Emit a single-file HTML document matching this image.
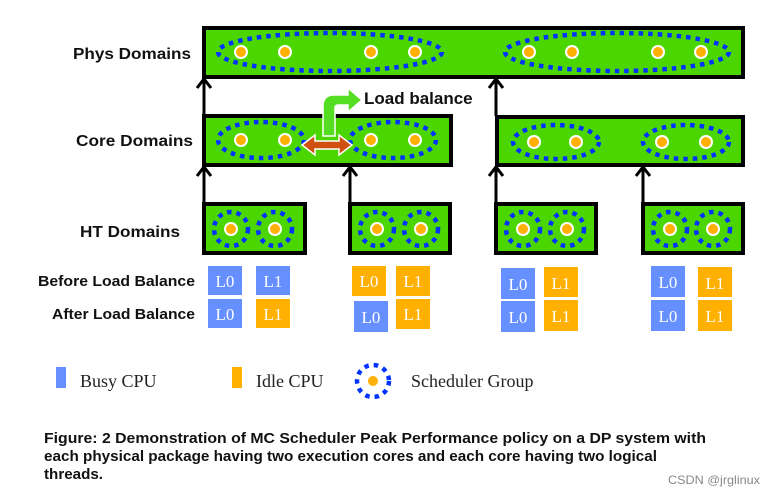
<!DOCTYPE html>
<html><head><meta charset="utf-8"><style>
html,body{margin:0;padding:0;background:#fff;}
svg{display:block;}
</style></head><body>
<svg width="775" height="495" viewBox="0 0 775 495" xmlns="http://www.w3.org/2000/svg" font-family="Liberation Sans, sans-serif">
<!-- labels -->
<g font-weight="bold" fill="#111">
<text x="73" y="59" font-size="16" textLength="118" lengthAdjust="spacingAndGlyphs">Phys Domains</text>
<text x="76" y="146" font-size="16" textLength="117" lengthAdjust="spacingAndGlyphs">Core Domains</text>
<text x="80" y="237" font-size="16" textLength="100" lengthAdjust="spacingAndGlyphs">HT Domains</text>
<text x="38" y="286" font-size="14.5" textLength="157" lengthAdjust="spacingAndGlyphs">Before Load Balance</text>
<text x="52" y="319" font-size="14.5" textLength="143" lengthAdjust="spacingAndGlyphs">After Load Balance</text>
</g>
<!-- arrows -->
<g stroke="#000" stroke-width="3" fill="none">
<line x1="204" y1="203" x2="204" y2="168"/><polyline points="197,176 204,167 211,176"/>
<line x1="204" y1="115" x2="204" y2="80"/><polyline points="197,88 204,79 211,88"/>
<line x1="350" y1="203" x2="350" y2="168"/><polyline points="343,176 350,167 357,176"/>
<line x1="496" y1="116" x2="496" y2="80"/><polyline points="489,88 496,79 503,88"/>
<line x1="496" y1="203" x2="496" y2="168"/><polyline points="489,176 496,167 503,176"/>
<line x1="643" y1="203" x2="643" y2="168"/><polyline points="636,176 643,167 650,176"/>
</g>
<!-- boxes -->
<g fill="#4cd600" stroke="#000" stroke-width="4">
<rect x="204" y="28" width="539" height="49"/>
<rect x="204" y="116" width="247" height="49"/>
<rect x="497" y="117" width="246" height="48"/>
<rect x="204" y="204" width="101" height="49"/>
<rect x="350" y="204" width="100" height="49"/>
<rect x="496" y="204" width="100" height="49"/>
<rect x="643" y="204" width="100" height="49"/>
</g>
<!-- ellipses -->
<g fill="none" stroke="#0033ff" stroke-width="4.5" stroke-dasharray="4.5 5">
<ellipse cx="330" cy="52" rx="112" ry="19"/>
<ellipse cx="617" cy="52" rx="112" ry="19"/>
<ellipse cx="261" cy="140" rx="43" ry="18"/>
<ellipse cx="393" cy="140" rx="43" ry="18"/>
<ellipse cx="556" cy="142" rx="43" ry="17"/>
<ellipse cx="686" cy="142" rx="43" ry="17"/>
<circle cx="231" cy="229" r="17"/><circle cx="275" cy="229" r="17"/>
<circle cx="377" cy="229" r="17"/><circle cx="421" cy="229" r="17"/>
<circle cx="523" cy="229" r="17"/><circle cx="567" cy="229" r="17"/>
<circle cx="670" cy="229" r="17"/><circle cx="713" cy="229" r="17"/>
</g>
<g fill="#ffb000" stroke="#fff" stroke-width="2">
<circle cx="241" cy="52" r="6"/><circle cx="285" cy="52" r="6"/><circle cx="371" cy="52" r="6"/><circle cx="415" cy="52" r="6"/>
<circle cx="529" cy="52" r="6"/><circle cx="572" cy="52" r="6"/><circle cx="658" cy="52" r="6"/><circle cx="701" cy="52" r="6"/>
<circle cx="241" cy="140" r="6"/><circle cx="285" cy="140" r="6"/><circle cx="371" cy="140" r="6"/><circle cx="415" cy="140" r="6"/>
<circle cx="534" cy="142" r="6"/><circle cx="576" cy="142" r="6"/><circle cx="662" cy="142" r="6"/><circle cx="706" cy="142" r="6"/>
<circle cx="231" cy="229" r="6"/><circle cx="275" cy="229" r="6"/>
<circle cx="377" cy="229" r="6"/><circle cx="421" cy="229" r="6"/>
<circle cx="523" cy="229" r="6"/><circle cx="567" cy="229" r="6"/>
<circle cx="670" cy="229" r="6"/><circle cx="713" cy="229" r="6"/>
</g>
<!-- load balance -->
<path d="M323,136 L323,106 Q323,95 334,95 L348,95 L348,88 L362,100 L348,112 L348,105 L338,105 Q335,105 335,108 L335,136 Z" fill="#55dd22" stroke="#fff" stroke-width="1.5"/>
<path d="M302,145 L315,135 L315,141 L339,141 L339,135 L352,145 L339,155 L339,149 L315,149 L315,155 Z" fill="#d05010" stroke="#fff" stroke-width="1.5"/>
<text x="364" y="104" font-size="17" font-weight="bold" fill="#111">Load balance</text>
<!-- CPU boxes -->
<g font-family="Liberation Serif, serif" font-size="17" fill="#fff" text-anchor="middle">
<rect x="208" y="266" width="34" height="29" fill="#6690ff"/><text x="225" y="287">L0</text>
<rect x="256" y="266" width="34" height="29" fill="#6690ff"/><text x="273" y="287">L1</text>
<rect x="208" y="299" width="34" height="29" fill="#6690ff"/><text x="225" y="320">L0</text>
<rect x="256" y="299" width="34" height="29" fill="#ffb000"/><text x="273" y="320">L1</text>
<rect x="352" y="266" width="34" height="30" fill="#ffb000"/><text x="369" y="287">L0</text>
<rect x="396" y="266" width="34" height="30" fill="#ffb000"/><text x="413" y="287">L1</text>
<rect x="354" y="301" width="34" height="31" fill="#6690ff"/><text x="371" y="323">L0</text>
<rect x="396" y="299" width="34" height="30" fill="#ffb000"/><text x="413" y="320">L1</text>
<rect x="501" y="268" width="34" height="31" fill="#6690ff"/><text x="518" y="290">L0</text>
<rect x="544" y="267" width="34" height="30" fill="#ffb000"/><text x="561" y="289">L1</text>
<rect x="501" y="301" width="34" height="31" fill="#6690ff"/><text x="518" y="323">L0</text>
<rect x="544" y="300" width="34" height="31" fill="#ffb000"/><text x="561" y="322">L1</text>
<rect x="651" y="266" width="34" height="31" fill="#6690ff"/><text x="668" y="288">L0</text>
<rect x="698" y="267" width="34" height="30" fill="#ffb000"/><text x="715" y="289">L1</text>
<rect x="651" y="300" width="34" height="31" fill="#6690ff"/><text x="668" y="322">L0</text>
<rect x="698" y="300" width="34" height="31" fill="#ffb000"/><text x="715" y="322">L1</text>
</g>
<!-- legend -->
<rect x="56" y="367" width="10" height="21" fill="#6690ff"/>
<rect x="232" y="367" width="10" height="21" fill="#ffb000"/>
<circle cx="373" cy="381" r="16" fill="none" stroke="#0033ff" stroke-width="4.5" stroke-dasharray="4.5 5"/>
<circle cx="373" cy="381" r="5" fill="#ffb000"/>
<g font-family="Liberation Serif, serif" font-size="18" fill="#222">
<text x="80" y="387">Busy CPU</text>
<text x="256" y="387">Idle CPU</text>
<text x="411" y="387">Scheduler Group</text>
</g>
<!-- caption -->
<g font-size="15" font-weight="bold" fill="#111">
<text x="44" y="443" textLength="662" lengthAdjust="spacingAndGlyphs">Figure: 2 Demonstration of MC Scheduler Peak Performance policy on a DP system with</text>
<text x="44" y="461" textLength="613" lengthAdjust="spacingAndGlyphs">each physical package having two execution cores and each core having two logical</text>
<text x="44" y="479" textLength="59" lengthAdjust="spacingAndGlyphs">threads.</text>
</g>
<text x="668" y="484" font-size="12" fill="#888" textLength="92" lengthAdjust="spacingAndGlyphs">CSDN @jrglinux</text>
</svg>
</body></html>
